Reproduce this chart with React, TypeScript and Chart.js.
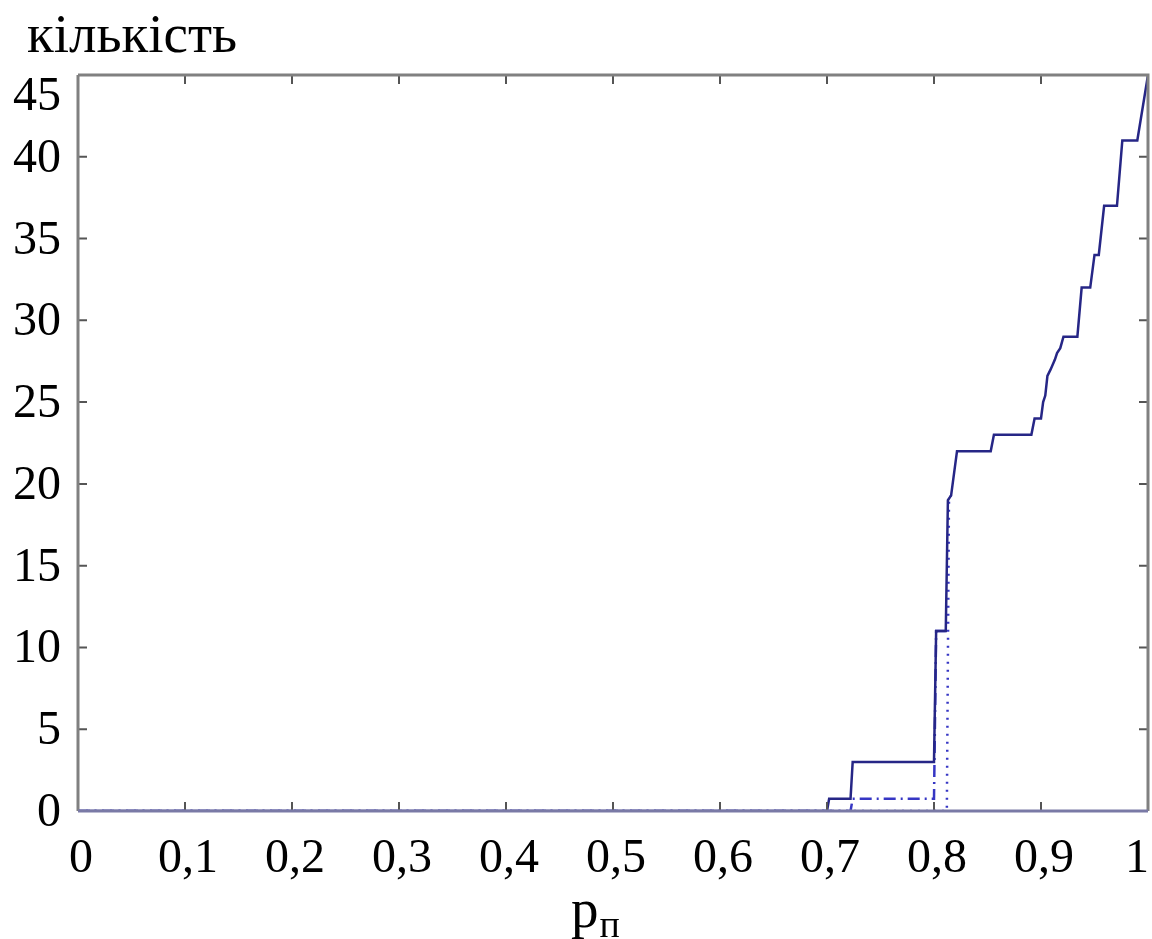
import React, { useEffect, useRef } from 'react';
import { Chart, registerables } from 'chart.js';

Chart.register(...registerables);

const xTicks = [0, 0.1, 0.2, 0.3, 0.4, 0.5, 0.6, 0.7, 0.8, 0.9, 1];
const xTickLabels = ['0', '0,1', '0,2', '0,3', '0,4', '0,5', '0,6', '0,7', '0,8', '0,9', '1'];
const yTicks = [0, 5, 10, 15, 20, 25, 30, 35, 40, 45];
const yTickLabels = ['0', '5', '10', '15', '20', '25', '30', '35', '40', '45'];

const yAxisTitle = 'кількість';
const xAxisTitle = 'p';
const xAxisSub = 'п';

const solidX = [0, 0.700, 0.702, 0.722, 0.724, 0.800, 0.802, 0.811, 0.813, 0.816, 0.8215, 0.853, 0.856, 0.891, 0.894, 0.900, 0.902, 0.904, 0.906, 0.909, 0.913, 0.915, 0.918, 0.921, 0.934, 0.938, 0.946, 0.950, 0.954, 0.959, 0.971, 0.976, 0.990, 1.0];
const solidY = [0, 0, 0.75, 0.75, 3, 3, 11, 11, 19, 19.3, 22, 22, 23, 23, 24, 24, 25, 25.4, 26.6, 27, 27.6, 28, 28.3, 29, 29, 32, 32, 34, 34, 37, 37, 41, 41, 45];

const dashDotX = [0, 0.722, 0.724, 0.800, 0.802, 0.811];
const dashDotY = [0, 0, 0.75, 0.75, 11, 11];

const dottedX = [0, 0.812, 0.814, 0.816];
const dottedY = [0, 0, 19, 19.3];

const toPoints = (xs: number[], ys: number[]) => xs.map((x, i) => ({ x, y: ys[i] }));

const FONT = '"Liberation Serif", "Times New Roman", serif';

const decorPlugin = {
  id: 'decor',
  afterDatasetsDraw(chart: any) {
    const { ctx, chartArea, scales } = chart;
    const { left, right, top, bottom } = chartArea;
    const xs = scales.x;
    const ys = scales.y;
    ctx.save();
    // inside tick marks
    ctx.strokeStyle = '#555555';
    ctx.lineWidth = 2;
    ctx.beginPath();
    xTicks.forEach((v) => {
      const px = xs.getPixelForValue(v);
      ctx.moveTo(px, bottom);
      ctx.lineTo(px, bottom - 9);
      ctx.moveTo(px, top);
      ctx.lineTo(px, top + 9);
    });
    yTicks.forEach((v) => {
      const py = ys.getPixelForValue(v);
      ctx.moveTo(left, py);
      ctx.lineTo(left + 9, py);
      ctx.moveTo(right, py);
      ctx.lineTo(right - 9, py);
    });
    ctx.stroke();
    // frame
    ctx.strokeStyle = '#808080';
    ctx.lineWidth = 3;
    ctx.beginPath();
    ctx.moveTo(left, top);
    ctx.lineTo(right, top);
    ctx.lineTo(right, bottom);
    ctx.stroke();
    ctx.beginPath();
    ctx.moveTo(left, top);
    ctx.lineTo(left, bottom);
    ctx.stroke();
    ctx.strokeStyle = '#7a7aa6';
    ctx.beginPath();
    ctx.moveTo(left, bottom);
    ctx.lineTo(right, bottom);
    ctx.stroke();

    // tick labels
    ctx.fillStyle = '#000000';
    ctx.font = `48px ${FONT}`;
    ctx.textBaseline = 'alphabetic';
    ctx.textAlign = 'center';
    xTicks.forEach((v, i) => {
      const label = xTickLabels[i];
      const w = ctx.measureText(label).width;
      let px = xs.getPixelForValue(v) + 3;
      if (px + w / 2 > right + 1) px = right + 1 - w / 2;
      ctx.fillText(label, px, 872);
    });
    ctx.textAlign = 'right';
    yTicks.forEach((v, i) => {
      const py = ys.getPixelForValue(v);
      const base = Math.max(py + 15, top + 35);
      ctx.fillText(yTickLabels[i], 61, base);
    });

    // titles
    ctx.textAlign = 'left';
    ctx.font = `55px ${FONT}`;
    ctx.fillText(yAxisTitle, 27, 52);
    ctx.font = `55px ${FONT}`;
    const pw = ctx.measureText(xAxisTitle).width;
    const cx = (left + right) / 2;
    ctx.fillText(xAxisTitle, cx - 42, 927);
    ctx.font = `38px ${FONT}`;
    ctx.fillText(xAxisSub, cx - 42 + pw + 1, 937);
    ctx.restore();
  },
};

export default function App() {
  const canvasRef = useRef<HTMLCanvasElement | null>(null);

  useEffect(() => {
    const canvas = canvasRef.current;
    if (!canvas) return;
    const chart = new Chart(canvas, {
      type: 'line',
      data: {
        datasets: [
          {
            label: 'solid',
            data: toPoints(solidX, solidY),
            borderColor: '#262686',
            borderWidth: 2.5,
            pointRadius: 0,
            tension: 0,
            fill: false,
          },
          {
            label: 'dash-dot',
            data: toPoints(dashDotX, dashDotY),
            borderColor: '#3636c4',
            borderWidth: 2.5,
            borderDash: [12, 5, 2, 5],
            pointRadius: 0,
            tension: 0,
            fill: false,
          },
          {
            label: 'dotted',
            data: toPoints(dottedX, dottedY),
            borderColor: '#3636c4',
            borderWidth: 2.5,
            borderDash: [2, 6],
            pointRadius: 0,
            tension: 0,
            fill: false,
          },
        ],
      },
      options: {
        responsive: false,
        animation: false,
        layout: { padding: { left: 78, top: 75, right: 4, bottom: 128 } },
        plugins: {
          legend: { display: false },
          tooltip: { enabled: false },
          title: { display: false },
        },
        scales: {
          x: { type: 'linear', min: 0, max: 1, display: false },
          y: { type: 'linear', min: 0, max: 45, display: false },
        },
      },
      plugins: [decorPlugin],
    });
    return () => chart.destroy();
  }, []);

  return (
    <div style={{ position: 'absolute', left: 0, top: 0, width: 1152, height: 939, background: '#ffffff' }}>
      <canvas ref={canvasRef} width={1152} height={939} style={{ display: 'block' }} />
    </div>
  );
}
